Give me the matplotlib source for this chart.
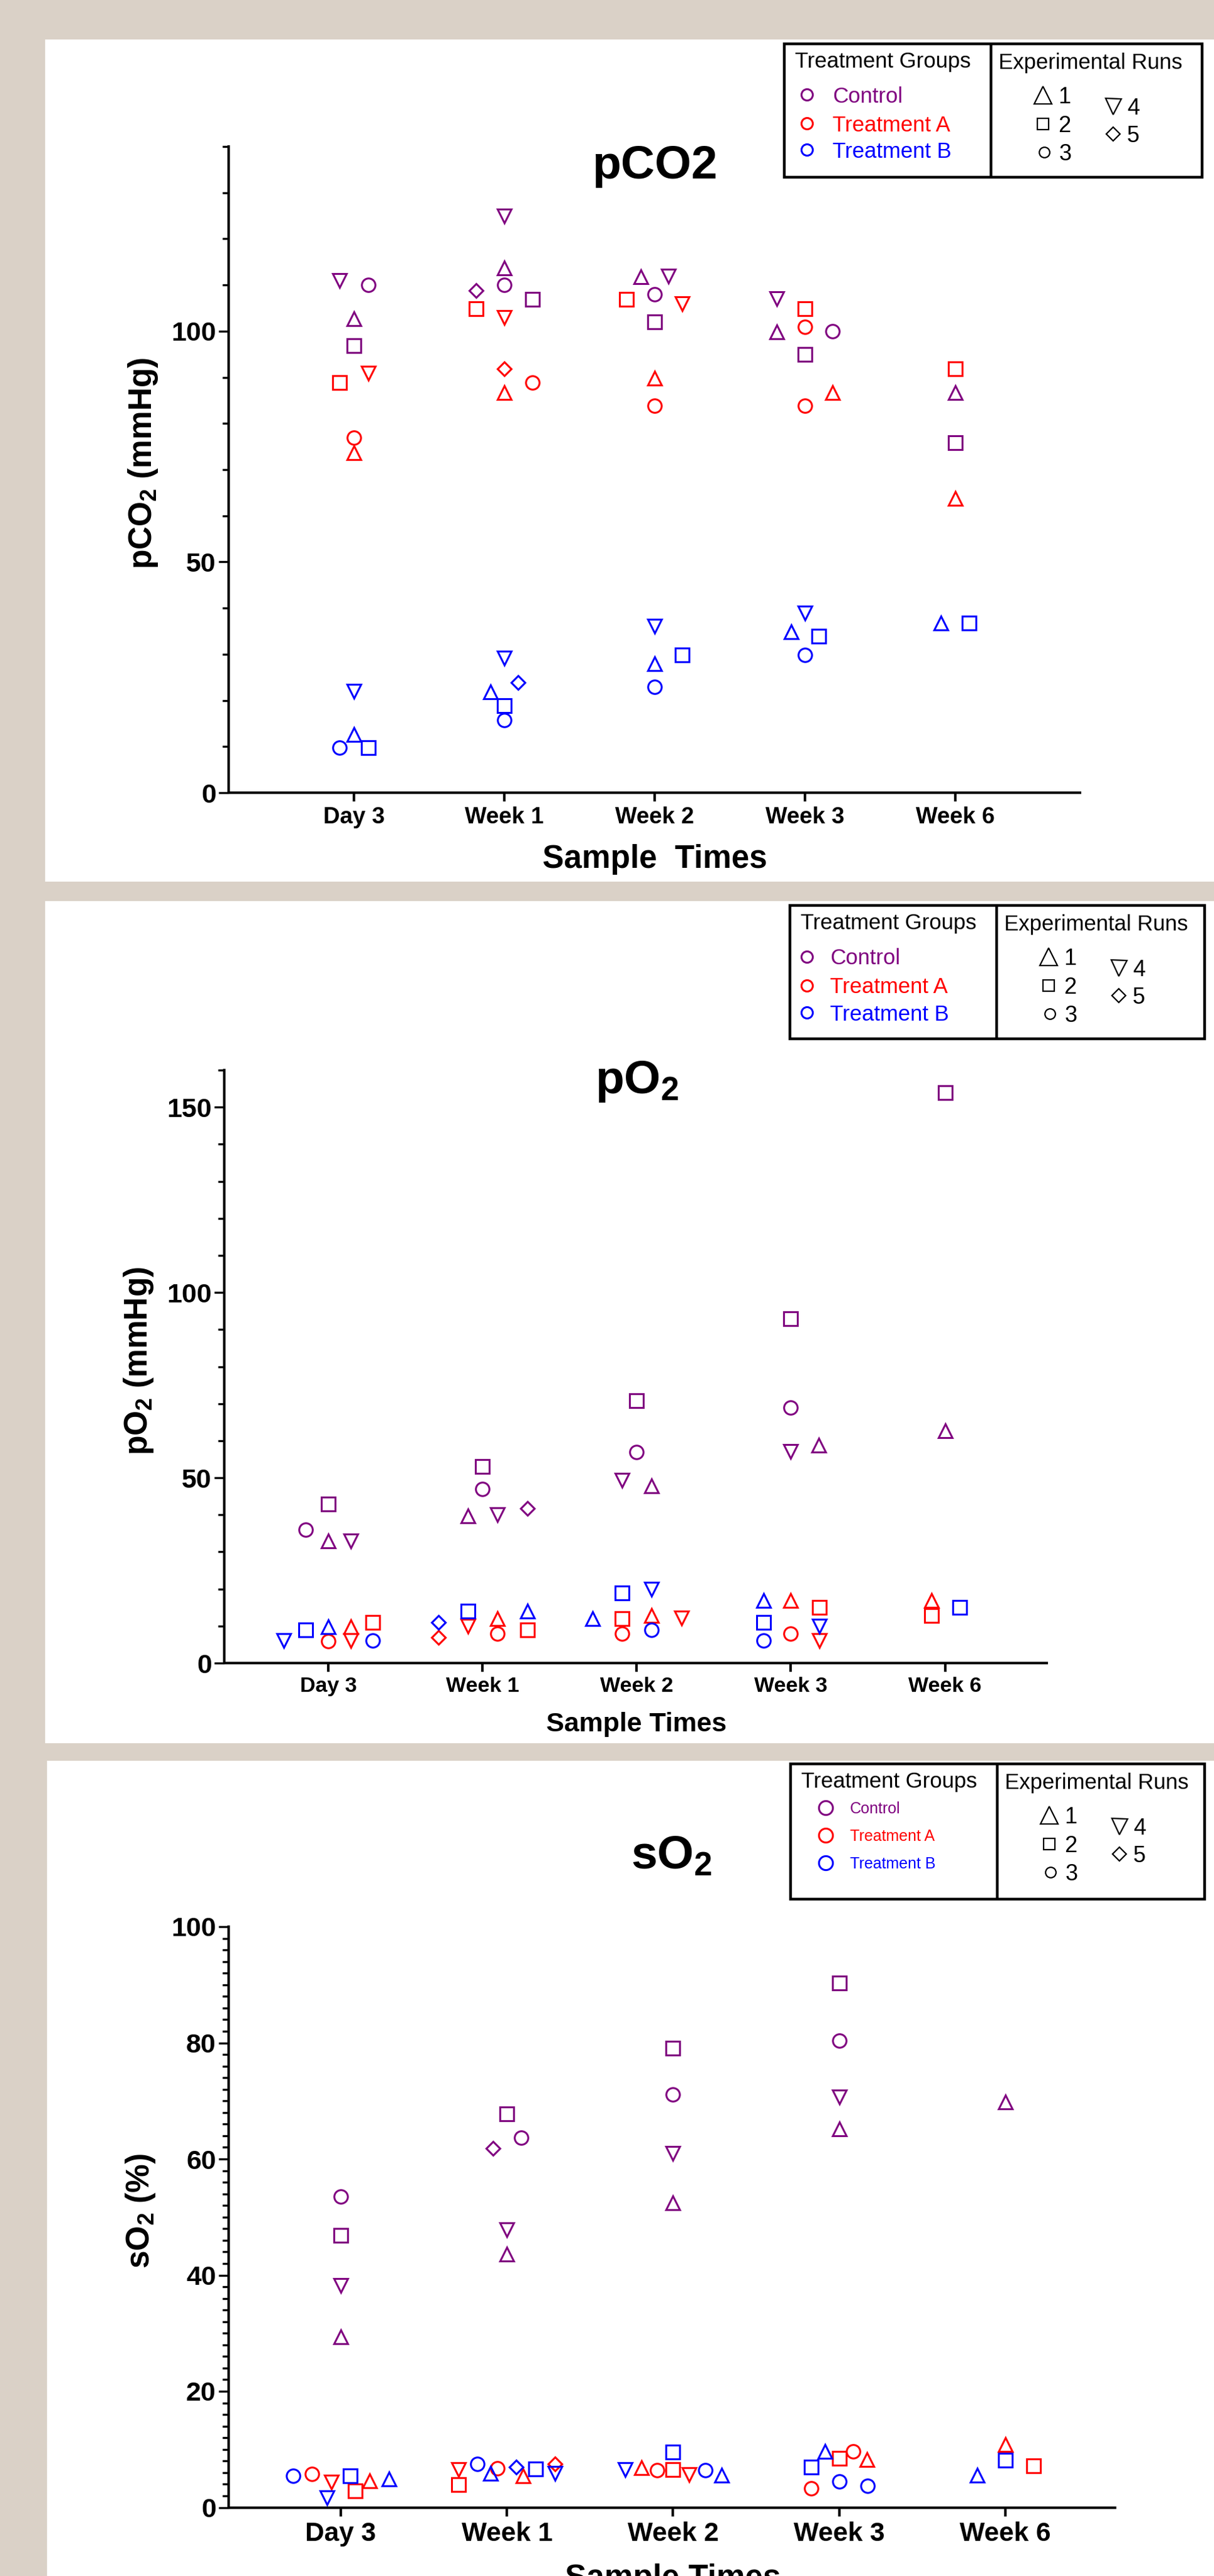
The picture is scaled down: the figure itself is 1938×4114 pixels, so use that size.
import matplotlib
matplotlib.use('Agg')
import matplotlib.pyplot as plt
from matplotlib.patches import Rectangle
from matplotlib.ticker import MultipleLocator

plt.rcParams['font.family'] = ['Liberation Sans', 'DejaVu Sans']
plt.rcParams['mathtext.default'] = 'regular'

TIMES = ['Day 3', 'Week 1', 'Week 2', 'Week 3', 'Week 6']
GROUPS = ['Control', 'Treatment A', 'Treatment B']
RUNS = [1, 2, 3, 4, 5]

# (time index, run, value)
PCO2_CONTROL = [(0, 1, 102.7), (0, 2, 96.9), (0, 3, 110.0), (0, 4, 111.0),
                (1, 1, 113.7), (1, 2, 106.9), (1, 3, 110.0), (1, 4, 124.9), (1, 5, 108.8),
                (2, 1, 111.8), (2, 2, 102.0), (2, 3, 108.0), (2, 4, 111.9),
                (3, 1, 99.9), (3, 2, 95.0), (3, 3, 100.0), (3, 4, 107.1),
                (4, 1, 86.7), (4, 2, 75.8)]
PCO2_A = [(0, 1, 73.7), (0, 2, 88.8), (0, 3, 76.9), (0, 4, 90.9),
          (1, 1, 86.7), (1, 2, 104.9), (1, 3, 88.8), (1, 4, 102.9), (1, 5, 91.9),
          (2, 1, 89.8), (2, 2, 106.9), (2, 3, 83.9), (2, 4, 106.0),
          (3, 1, 86.7), (3, 2, 104.9), (3, 3, 100.9), (3, 3, 83.9),
          (4, 1, 63.7), (4, 2, 91.9)]
PCO2_B = [(0, 1, 12.6), (0, 2, 9.8), (0, 3, 9.8), (0, 4, 22.0),
          (1, 1, 21.8), (1, 2, 18.8), (1, 3, 15.7), (1, 4, 29.1), (1, 5, 23.9),
          (2, 1, 27.9), (2, 2, 29.9), (2, 3, 22.9), (2, 4, 36.1),
          (3, 1, 34.8), (3, 2, 33.9), (3, 3, 29.9), (3, 4, 39.0),
          (4, 1, 36.8), (4, 2, 36.8)]

PO2_CONTROL = [(0, 1, 33.0), (0, 2, 42.9), (0, 3, 36.0), (0, 4, 33.0),
               (1, 1, 39.7), (1, 2, 53.0), (1, 3, 47.0), (1, 4, 40.0), (1, 5, 41.8),
               (2, 1, 47.8), (2, 2, 70.8), (2, 3, 57.0), (2, 4, 49.3),
               (3, 1, 58.8), (3, 2, 92.9), (3, 3, 68.9), (3, 4, 57.1),
               (4, 1, 62.6), (4, 2, 153.9)]
PO2_A = [(0, 1, 9.8), (0, 2, 11.0), (0, 3, 5.9), (0, 4, 6.1),
         (1, 1, 12.0), (1, 2, 8.9), (1, 3, 7.9), (1, 4, 9.9), (1, 5, 6.9),
         (2, 1, 12.9), (2, 2, 12.0), (2, 3, 7.9), (2, 4, 12.1),
         (3, 1, 16.9), (3, 2, 15.0), (3, 3, 7.9), (3, 4, 6.1),
         (4, 1, 16.9), (4, 2, 12.9)]
PO2_B = [(0, 1, 9.8), (0, 2, 8.9), (0, 3, 6.0), (0, 4, 6.0),
         (1, 1, 14.0), (1, 2, 14.0), (1, 5, 11.0),
         (2, 1, 12.0), (2, 2, 18.9), (2, 3, 9.0), (2, 4, 20.0),
         (3, 1, 16.9), (3, 2, 11.0), (3, 3, 6.0), (3, 4, 10.0),
         (4, 2, 15.0)]

SO2_CONTROL = [(0, 1, 29.4), (0, 2, 46.9), (0, 3, 53.5), (0, 4, 38.2),
               (1, 1, 43.6), (1, 2, 67.8), (1, 3, 63.7), (1, 4, 47.8), (1, 5, 61.8),
               (2, 1, 52.4), (2, 2, 79.1), (2, 3, 71.1), (2, 4, 61.0),
               (3, 1, 65.2), (3, 2, 90.3), (3, 3, 80.4), (3, 4, 70.7),
               (4, 1, 69.8)]
SO2_A = [(0, 1, 4.6), (0, 2, 2.9), (0, 3, 5.8), (0, 4, 4.4),
         (1, 1, 5.4), (1, 2, 3.9), (1, 3, 6.7), (1, 4, 6.5), (1, 5, 7.5),
         (2, 1, 6.9), (2, 2, 6.5), (2, 3, 6.4), (2, 4, 5.7),
         (3, 1, 8.2), (3, 2, 8.5), (3, 3, 9.7), (3, 3, 3.3),
         (4, 1, 10.8), (4, 2, 7.2)]
SO2_B = [(0, 1, 4.9), (0, 2, 5.4), (0, 3, 5.4), (0, 4, 1.7),
         (1, 1, 5.9), (1, 2, 6.6), (1, 3, 7.5), (1, 4, 5.9), (1, 5, 7.0),
         (2, 1, 5.6), (2, 2, 9.5), (2, 3, 6.4), (2, 4, 6.5),
         (3, 1, 9.6), (3, 2, 7.0), (3, 3, 4.5), (3, 3, 3.7),
         (4, 1, 5.6), (4, 2, 8.1)]

# horizontal dodge of each point inside its time column (category units)
PCO2_CONTROL_DODGE = [0, 0, .095, -.095, 0, .186, 0, 0, -.186, -.093, 0, 0, .093,
                      -.186, 0, .186, -.186, 0, 0]
PCO2_A_DODGE = [0, -.095, 0, .095, 0, -.186, .186, 0, 0, 0, -.186, 0, .186,
                .186, 0, 0, 0, 0, 0]
PCO2_B_DODGE = [0, .095, -.095, 0, -.093, 0, 0, 0, .093, 0, .186, 0, 0,
                -.093, .093, 0, 0, -.093, .093]
PO2_CONTROL_DODGE = [0, 0, -.145, .145, -.095, 0, 0, .095, .29, .095, 0, 0, -.095,
                     .18, 0, 0, 0, 0, 0]
PO2_A_DODGE = [.145, .29, 0, .145, .095, .29, .095, -.095, -.285, .095, -.095, -.095, .29,
               0, .185, 0, .185, -.088, -.088]
PO2_B_DODGE = [0, -.145, .29, -.29, .29, -.095, -.285, -.285, -.095, .095, .095,
               -.178, -.178, -.178, .185, .095]
SO2_CONTROL_DODGE = [0, 0, 0, 0, 0, 0, .084, 0, -.084, 0, 0, 0, 0, 0, 0, 0, 0, 0]
SO2_A_DODGE = [.174, .085, -.174, -.058, .097, -.292, -.057, -.292, .29, -.19, 0, -.097, .097,
               .166, 0, .085, -.17, 0, .168]
SO2_B_DODGE = [.29, .057, -.288, -.083, -.1, .174, -.177, .29, .057, .292, 0, .194, -.289,
               -.085, -.17, 0, .17, -.168, 0]

COLORS = ['#800080', '#ff0000', '#0000ff']
MARKERS = {1: '^', 2: 's', 3: 'o', 4: 'v', 5: 'D'}
BEIGE = '#dad1c7'
W, H = 1938, 4114

fig = plt.figure(figsize=(W / 100, H / 100), dpi=100, facecolor=BEIGE)
cv = fig.add_axes([0, 0, 1, 1])
cv.set_xlim(0, W); cv.set_ylim(H, 0); cv.axis('off')

# white panels
for x0, y0, y1 in [(72, 63, 1408), (72, 1439, 2784), (75, 2812, H + 5)]:
    cv.add_patch(Rectangle((x0, y0), W - x0, y1 - y0, fc='white', ec='none'))


def mark(ax, x, y, run, color, ms, mew):
    m = MARKERS[run]
    ax.plot(x, y, ls='none', marker=m, ms=ms * (0.74 if m == 'D' else 1.0),
            mfc='none', mec=color, mew=mew, clip_on=False)


def panel(box, xlim, ylim, major, minor, xsize, series):
    x0, y0, x1, y1 = box
    ax = fig.add_axes([x0 / W, 1 - y1 / H, (x1 - x0) / W, (y1 - y0) / H])
    ax.patch.set_visible(False)
    for pts, dodge, color in series:
        for (t, run, v), d in zip(pts, dodge):
            mark(ax, t + d, v, run, color, 15.5, 2.2)
    ax.set_xlim(*xlim); ax.set_ylim(*ylim)
    ax.set_xticks(range(len(TIMES)))
    ax.set_xticklabels(TIMES, fontsize=xsize, fontweight='bold')
    ax.yaxis.set_major_locator(MultipleLocator(major))
    ax.yaxis.set_minor_locator(MultipleLocator(minor))
    for lab in ax.get_yticklabels():
        lab.set_fontweight('bold')
    for s in ('top', 'right'):
        ax.spines[s].set_visible(False)
    for s in ('left', 'bottom'):
        ax.spines[s].set_linewidth(2.9)
    ax.tick_params(axis='y', which='major', length=11.5, width=2.4, pad=3, labelsize=31)
    ax.tick_params(axis='y', which='minor', length=7, width=2.4)
    ax.tick_params(axis='x', length=10, width=2.9, pad=6)
    return ax


panel((365, 234, 1724, 1266), (-0.833, 4.83), (0, 140), 50, 10, 26.5,
      [(PCO2_CONTROL, PCO2_CONTROL_DODGE, COLORS[0]), (PCO2_A, PCO2_A_DODGE, COLORS[1]),
       (PCO2_B, PCO2_B_DODGE, COLORS[2])])
panel((358, 1709, 1671, 2656), (-0.675, 4.66), (0, 160), 50, 10, 24.5,
      [(PO2_CONTROL, PO2_CONTROL_DODGE, COLORS[0]), (PO2_A, PO2_A_DODGE, COLORS[1]),
       (PO2_B, PO2_B_DODGE, COLORS[2])])
panel((365, 3077, 1780, 4004.5), (-0.675, 4.66), (0, 100), 20, 2, 30.5,
      [(SO2_CONTROL, SO2_CONTROL_DODGE, COLORS[0]), (SO2_A, SO2_A_DODGE, COLORS[1]),
       (SO2_B, SO2_B_DODGE, COLORS[2])])

# titles, axis labels
bold = dict(fontweight='bold', color='black')
cv.text(1045, 285, 'pCO2', ha='center', va='baseline', fontsize=54, **bold)
cv.text(1017, 1746, r'pO$_2$', ha='center', va='baseline', fontsize=54, **bold)
cv.text(1072, 2984, r'sO$_2$', ha='center', va='baseline', fontsize=54, **bold)
cv.text(229, 740, r'pCO$_2$ (mmHg)', rotation=90, ha='center', va='center', fontsize=37, **bold)
cv.text(222, 2173, r'pO$_2$ (mmHg)', rotation=90, ha='center', va='center', fontsize=37, **bold)
cv.text(225, 3531, r'sO$_2$ (%)', rotation=90, ha='center', va='center', fontsize=37, **bold)
cv.text(1045, 1386, 'Sample  Times', ha='center', va='baseline', fontsize=37, **bold)
cv.text(1016, 2765, 'Sample Times', ha='center', va='baseline', fontsize=31, **bold)
cv.text(1074, 4132, 'Sample Times', ha='center', va='baseline', fontsize=37, **bold)


def legend(box, div, gx, tx, rows, gsize, gms):
    x0, y0, x1, y1 = box
    cv.add_patch(Rectangle((x0, y0), x1 - x0, y1 - y0, fill=False, ec='black', lw=3.2))
    cv.plot([div, div], [y0, y1], color='black', lw=3.2, solid_capstyle='butt')
    cv.text(x0 + 17, y0 + 38, 'Treatment Groups', fontsize=25, va='baseline')
    cv.text(div + 12, y0 + 40, 'Experimental Runs', fontsize=25, va='baseline')
    for name, color, ry in zip(GROUPS, COLORS, rows):
        cv.plot(gx, ry, ls='none', marker='o', ms=gms, mfc='none', mec=color, mew=2.2)
        cv.text(tx, ry + gsize * 0.5, name, color=color, fontsize=gsize, va='baseline')
    run_pos = {1: (83, 82, 20), 2: (83, 128, 13), 3: (85, 173, 12),
               4: (195, 100, 18), 5: (195, 144, 15)}
    for run in RUNS:
        dx, dy, ms = run_pos[run]
        m = MARKERS[run]
        cv.plot(div + dx, y0 + dy, ls='none', marker=m, ms=ms * (0.74 if m == 'D' else 1.0),
                mfc='none', mec='black', mew=1.6)
        cv.text(div + dx + (36 if run > 3 else 38) - 14, y0 + dy + 13, str(run),
                fontsize=26, va='baseline')


legend((1252, 70, 1919, 283), 1582, 1288, 1329, (151, 197, 239), 25, 13)
legend((1261, 1446, 1923, 1659), 1591, 1288, 1325, (1528, 1574, 1617), 25, 13)
legend((1262, 2817, 1923, 3033), 1592, 1318, 1357, (2887, 2931, 2975), 18, 16)

fig.savefig('out.png', dpi=100, facecolor=BEIGE)
